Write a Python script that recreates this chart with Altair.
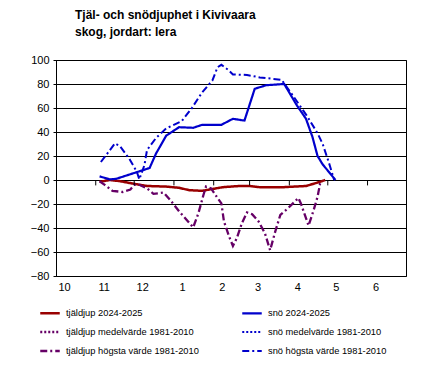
import altair as alt
import pandas as pd

START = pd.Timestamp("2024-10-01")

# series names; legend fills column by column (left: tjäldjup, right: snö)
S_TJ = "tjäldjup 2024-2025"
S_SN = "snö 2024-2025"
S_TJM = "tjäldjup medelvärde 1981-2010"
S_SNM = "snö medelvärde 1981-2010"
S_TJH = "tjäldjup högsta värde 1981-2010"
S_SNH = "snö högsta värde 1981-2010"
series_order = [S_TJ, S_TJM, S_TJH, S_SN, S_SNM, S_SNH]
series_colors = ["#990000", "#660066", "#660066", "#0000CC", "#0000CC", "#0000CC"]
series_dashes = [[1, 0], [2, 2], [7, 3, 2, 3], [1, 0], [2, 2], [7, 3, 2, 3]]
series_widths = [2.5, 2, 2, 2.5, 2, 2]

# snö 2024-2025
snow_dates = ["2024-11-04", "2024-11-12", "2024-11-17", "2024-12-13", "2024-12-18",
              "2024-12-26", "2025-01-05", "2025-01-16", "2025-01-23", "2025-02-07",
              "2025-02-16", "2025-02-25", "2025-03-05", "2025-03-14", "2025-03-28",
              "2025-04-07", "2025-04-14", "2025-04-19", "2025-04-23", "2025-04-27",
              "2025-05-07"]
snow_vals = [3, 0.5, 1, 10, 22, 37, 44, 43.5, 46, 46, 51, 49.5, 76, 79, 80,
             62, 51, 36, 20, 13, 0]

# snö högsta värde 1981-2010
snowmax_dates = ["2024-11-05", "2024-11-16", "2024-11-20", "2024-11-27", "2024-12-03",
                 "2024-12-05", "2024-12-09", "2024-12-11", "2024-12-18", "2024-12-26",
                 "2025-01-07", "2025-01-15", "2025-01-23", "2025-01-31", "2025-02-04",
                 "2025-02-07", "2025-02-12", "2025-02-16", "2025-02-27", "2025-03-09",
                 "2025-03-26", "2025-04-04", "2025-04-15", "2025-04-23", "2025-04-27",
                 "2025-05-02", "2025-05-06"]
snowmax_vals = [15, 30.5, 28, 18, 7, 0.5, 12.5, 25, 35, 43, 49, 60, 73, 83, 94,
                96, 92, 88, 87.5, 85.5, 83.5, 70, 53, 39, 30, 14, 0]

# tjäldjup 2024-2025
frost_dates = ["2024-11-04", "2024-11-12", "2024-11-20", "2024-11-30", "2024-12-11",
               "2024-12-26", "2025-01-05", "2025-01-13", "2025-01-23", "2025-01-31",
               "2025-02-08", "2025-02-21", "2025-03-01", "2025-03-09", "2025-03-27",
               "2025-04-14", "2025-04-25", "2025-04-29"]
frost_vals = [-1.5, 0, -1, -3, -5, -5.5, -6.5, -8.5, -9, -7.5, -6, -5, -5, -6, -6,
              -5, -1.5, 0]

# tjäldjup högsta värde 1981-2010
frostmax_dates = ["2024-11-04", "2024-11-08", "2024-11-14", "2024-11-22", "2024-11-28",
                  "2024-12-01", "2024-12-05", "2024-12-11", "2024-12-16", "2024-12-24",
                  "2024-12-29", "2025-01-05", "2025-01-12", "2025-01-16", "2025-01-20",
                  "2025-01-24", "2025-01-26", "2025-01-30", "2025-02-04", "2025-02-07",
                  "2025-02-09", "2025-02-13", "2025-02-16", "2025-02-19", "2025-02-23",
                  "2025-02-27", "2025-03-03", "2025-03-08", "2025-03-13", "2025-03-17",
                  "2025-03-21", "2025-03-25", "2025-03-31", "2025-04-08", "2025-04-10",
                  "2025-04-16", "2025-04-20", "2025-04-23", "2025-04-25", "2025-04-27"]
frostmax_vals = [-1, -4, -9, -10, -8, -4, -4, -7, -11.5, -10.5, -16.5, -26, -34.5,
                 -39.5, -28, -12.5, -5.5, -7, -15, -19.5, -34.5, -47, -55, -48.5,
                 -36, -27, -28.5, -34.5, -44.5, -58.5, -43, -29, -23.5, -15, -19.5,
                 -38, -25, -14, -3, -1]

# x axis: month starts and labels
month_starts = ["2024-10-01", "2024-11-01", "2024-12-01", "2025-01-01", "2025-02-01",
                "2025-03-01", "2025-04-01", "2025-05-01", "2025-06-01"]
month_labels = ["10", "11", "12", "1", "2", "3", "4", "5", "6"]
x_end = "2025-07-01"
y_ticks = [-80, -60, -40, -20, 0, 20, 40, 60, 80, 100]


def days(dates):
    return [(pd.Timestamp(d) - START).days for d in dates]


frames = []
for name, ds, vs in [(S_TJ, frost_dates, frost_vals), (S_SN, snow_dates, snow_vals),
                     (S_TJH, frostmax_dates, frostmax_vals), (S_SNH, snowmax_dates, snowmax_vals)]:
    frames.append(pd.DataFrame({"series": name, "day": days(ds), "value": vs}))
df = pd.concat(frames, ignore_index=True)

month_days = days(month_starts)
ticks_df = pd.DataFrame({"day": month_days[1:]})

FONT = "Liberation Sans"

label_expr = "[" + ",".join("'%s'" % l for l in month_labels) + "][indexof([" + \
    ",".join(str(d) for d in month_days) + "], datum.value)]"

leg = alt.Legend(title=None, orient="none", legendX=-17, legendY=242, columns=2,
                 columnPadding=38, rowPadding=2, symbolType="stroke", symbolSize=380,
                 labelFontSize=9.3, labelFont=FONT, labelColor="black", labelOffset=5,
                 padding=0, labelLimit=300)

x_scale = alt.Scale(domain=[0, days([x_end])[0]], nice=False, zero=False)
y_scale = alt.Scale(domain=[-80, 100], nice=False)

x_axis = alt.Axis(values=month_days, labelExpr=label_expr, ticks=False, domain=False,
                  grid=False, title=None, labelPadding=5, labelFontSize=11, labelOffset=8,
                  labelFont=FONT, labelColor="black", labelFlush=False, labelOverlap=False)
y_axis = alt.Axis(values=y_ticks, grid=True, gridColor="black", gridOpacity=1,
                  gridWidth=1, domainColor="black", tickColor="black", tickSize=3,
                  title=None, labelPadding=4, labelFontSize=11, labelFont=FONT,
                  labelColor="black", labelOverlap=False, labelFlush=False)

lines = alt.Chart(df).mark_line().encode(
    x=alt.X("day:Q", scale=x_scale, axis=x_axis),
    y=alt.Y("value:Q", scale=y_scale, axis=y_axis),
    color=alt.Color("series:N", scale=alt.Scale(domain=series_order, range=series_colors), legend=leg),
    strokeDash=alt.StrokeDash("series:N", scale=alt.Scale(domain=series_order, range=series_dashes), legend=leg),
    strokeWidth=alt.StrokeWidth("series:N", scale=alt.Scale(domain=series_order, range=series_widths), legend=leg),
    order=alt.Order("day:Q"),
)

ticks = alt.Chart(ticks_df).mark_rule(color="black", strokeWidth=1).encode(
    x=alt.X("day:Q", scale=x_scale, axis=x_axis),
    y=alt.YDatum(0, scale=y_scale, axis=y_axis),
    y2=alt.Y2Datum(-4.5),
)

chart = alt.layer(lines, ticks).properties(
    width=350, height=216,
    autosize=alt.AutoSizeParams(type="none"),
    padding={"left": 56, "top": 60, "right": 24, "bottom": 100},
    title=alt.TitleParams(text=["Tjäl- och snödjuphet i Kivivaara", "skog, jordart: lera"],
                          anchor="start", frame="group", dx=19, offset=15, fontSize=12,
                          font=FONT, fontWeight="bold", color="black", lineHeight=17),
    background="white",
).configure_view(stroke="black", strokeWidth=1)

chart.save("out.html", embed_options={"renderer": "svg", "actions": False})
